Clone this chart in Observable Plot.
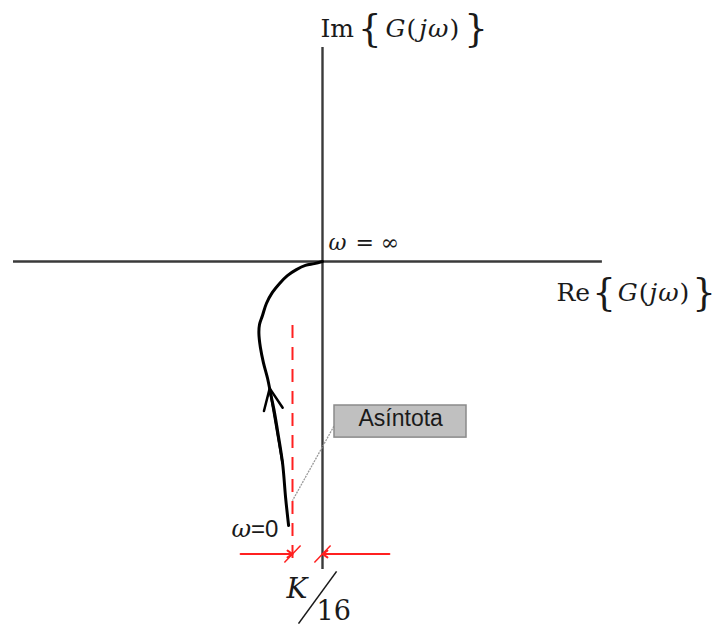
<!DOCTYPE html>
<html>
<head>
<meta charset="utf-8">
<script src="https://cdn.jsdelivr.net/npm/d3@7"></script>
<script src="https://cdn.jsdelivr.net/npm/@observablehq/plot@0.6"></script>
<style>
  html, body { margin: 0; padding: 0; background: #fff; }
  #chart svg { display: block; }
</style>
</head>
<body>
<div id="chart"></div>
<script>
// Nyquist locus of G(jω): ω = 0 at the bottom, ω = ∞ at the origin.
// Coordinates in units of K/16 (the asymptote sits at Re = -K/16).
const locusRe = [-1.13, -1.23, -1.33, -1.5, -1.6, -1.73, -1.83, -1.97, -2.07, -2.12, -2.1, -2.0, -1.87, -1.67, -1.43, -1.17, -0.87, -0.57, -0.27, 0];
const locusIm = [-8.8, -7.87, -6.73, -5.63, -5.03, -4.4, -3.9, -3.37, -2.87, -2.4, -2.1, -1.8, -1.4, -1.03, -0.73, -0.47, -0.27, -0.13, -0.07, 0];

// Vertical asymptote Re = -K/16
const asymptoteRe = [-1];
const asymptoteSpan = [-2.13, -9.9];

// Axis extents
const reAxisSpan = [-10.3, 9.33];
const imAxisSpan = [-10.27, 7.13];

// Dimension line marking the distance K/16 between asymptote and Im axis
const dimIm = -9.75;
const dimLeft = [-2.73, -1];   // from, to (arrow tip on the asymptote)
const dimRight = [2.23, 0];    // from, to (arrow tip on the Im axis)

// Direction arrow along the locus (increasing ω)
const dirArrow = {x1: -1.33, y1: -6.73, x2: -1.76, y2: -4.23};

// Callout box and its leader
const calloutBox = {x1: 0.4, x2: 4.8, y1: -4.8, y2: -5.87};
const leader = {x1: 0.43, y1: -5.4, x2: -1, y2: -7.97};

const locus = locusRe.map((re, i) => ({re, im: locusIm[i]}));

const serif = "'DejaVu Serif', 'Liberation Serif', serif";
const sans = "'Liberation Sans', Arial, sans-serif";
const ink = "#1a1a1a";

const chart = Plot.plot({
  width: 722,
  height: 626,
  margin: 0,
  x: {domain: [-322 / 30, 400 / 30], axis: null},
  y: {domain: [-365 / 30, 261 / 30], axis: null},
  style: {background: "#fff", overflow: "visible"},
  marks: [
    // Axes
    Plot.ruleY([0], {x1: reAxisSpan[0], x2: reAxisSpan[1], stroke: "#3a3a3a", strokeWidth: 2.4}),
    Plot.ruleX([0], {y1: imAxisSpan[0], y2: imAxisSpan[1], stroke: "#3a3a3a", strokeWidth: 2.4}),

    // Asymptote
    Plot.ruleX(asymptoteRe, {y1: asymptoteSpan[0], y2: asymptoteSpan[1], stroke: "#ff2020", strokeWidth: 2, strokeDasharray: "13,9"}),

    // Leader from the callout to the asymptote
    Plot.link([leader], {x1: "x1", y1: "y1", x2: "x2", y2: "y2", stroke: "#9a9a9a", strokeWidth: 1.3, strokeDasharray: "2,1"}),

    // Callout box
    Plot.rect([calloutBox], {x1: "x1", x2: "x2", y1: "y1", y2: "y2", fill: "#c0c0c0", stroke: "#8a8a8a", strokeWidth: 1.5}),
    Plot.text(["Asíntota"], {x: 1.2, y: -5.47, text: d => d, textAnchor: "start", lineAnchor: "bottom", fontFamily: sans, fontSize: 23, fill: ink, style: "letter-spacing:1px"}),

    // Locus
    Plot.line(locus, {x: "re", y: "im", stroke: "#000", strokeWidth: 3, curve: "catmull-rom"}),
    Plot.arrow([dirArrow], {x1: "x1", y1: "y1", x2: "x2", y2: "y2", stroke: "#000", strokeWidth: 2.5, headLength: 14, headAngle: 48}),

    // Dimension line K/16
    Plot.arrow([{a: dimLeft[0], b: dimLeft[1]}, {a: dimRight[0], b: dimRight[1]}], {x1: "a", x2: "b", y1: dimIm, y2: dimIm, stroke: "#ff2020", strokeWidth: 2, headLength: 4.5, headAngle: 70}),
    Plot.link([dimLeft[1], dimRight[1]], {x1: d => d - 0.27, x2: d => d + 0.27, y1: dimIm - 0.28, y2: dimIm + 0.28, stroke: "#ff2020", strokeWidth: 1.5}),

    // K/16 label
    Plot.text(["K"], {x: -1.2, y: -11.23, text: d => d, textAnchor: "start", lineAnchor: "bottom", fontFamily: serif, fontStyle: "italic", fontSize: 28, fill: ink}),
    Plot.link([{x1: -0.8, y1: -12.07, x2: 0.47, y2: -10.33}], {x1: "x1", y1: "y1", x2: "x2", y2: "y2", stroke: ink, strokeWidth: 1.6}),
    Plot.text(["16"], {x: -0.2, y: -11.95, text: d => d, textAnchor: "start", lineAnchor: "bottom", fontFamily: serif, fontSize: 27, fill: ink}),

    // Axis titles and ω labels
    Plot.text(["Im{G(jω)}"], {x: -0.07, y: 7.47, text: d => d, textAnchor: "start", lineAnchor: "bottom", fontFamily: serif, fontSize: 25, fill: ink}),
    Plot.text(["Re{G(jω)}"], {x: 7.8, y: -1.3, text: d => d, textAnchor: "start", lineAnchor: "bottom", fontFamily: serif, fontSize: 25, fill: ink}),
    Plot.text(["ω = ∞"], {x: 0.2, y: 0.37, text: d => d, textAnchor: "start", lineAnchor: "bottom", fontFamily: serif, fontSize: 22, fill: ink}),
    Plot.text(["ω=0"], {x: -1.47, y: -9.17, text: d => d, textAnchor: "end", lineAnchor: "bottom", fontFamily: sans, fontSize: 24, fill: ink})
  ]
});

document.getElementById("chart").appendChild(chart);

// Rebuild selected labels as mixed-style runs (italic symbols, tall braces)
function styleRuns(content, runs) {
  d3.select(chart).selectAll("text")
    .filter(function () { return this.textContent === content; })
    .each(function () {
      const t = d3.select(this);
      t.text(null);
      for (const r of runs) {
        const s = t.append("tspan").text(r.t);
        if (r.italic) s.attr("font-style", "italic");
        if (r.size) s.attr("font-size", r.size);
        if (r.family) s.attr("font-family", r.family);
        if (r.dx) s.attr("dx", r.dx);
        if (r.dy) s.attr("dy", r.dy);
      }
    });
}

const formula = (prefix, gap) => [
  {t: prefix},
  {t: "{", size: 37, family: serif, dx: gap + 1, dy: 4},
  {t: "G", italic: true, dx: gap + 1, dy: -4},
  {t: "(", dx: 1},
  {t: "j", italic: true, dx: gap},
  {t: "ω", italic: true, dx: 1},
  {t: ")", dx: 1},
  {t: "}", size: 37, dx: gap + 2, dy: 4}
];
styleRuns("Im{G(jω)}", formula("Im", 3));
styleRuns("Re{G(jω)}", formula("Re", 1));
styleRuns("ω = ∞", [{t: "ω", italic: true, family: serif}, {t: " = ∞", dx: 2}]);
styleRuns("ω=0", [{t: "ω", italic: true, family: serif}, {t: "=0"}]);
</script>
</body>
</html>
